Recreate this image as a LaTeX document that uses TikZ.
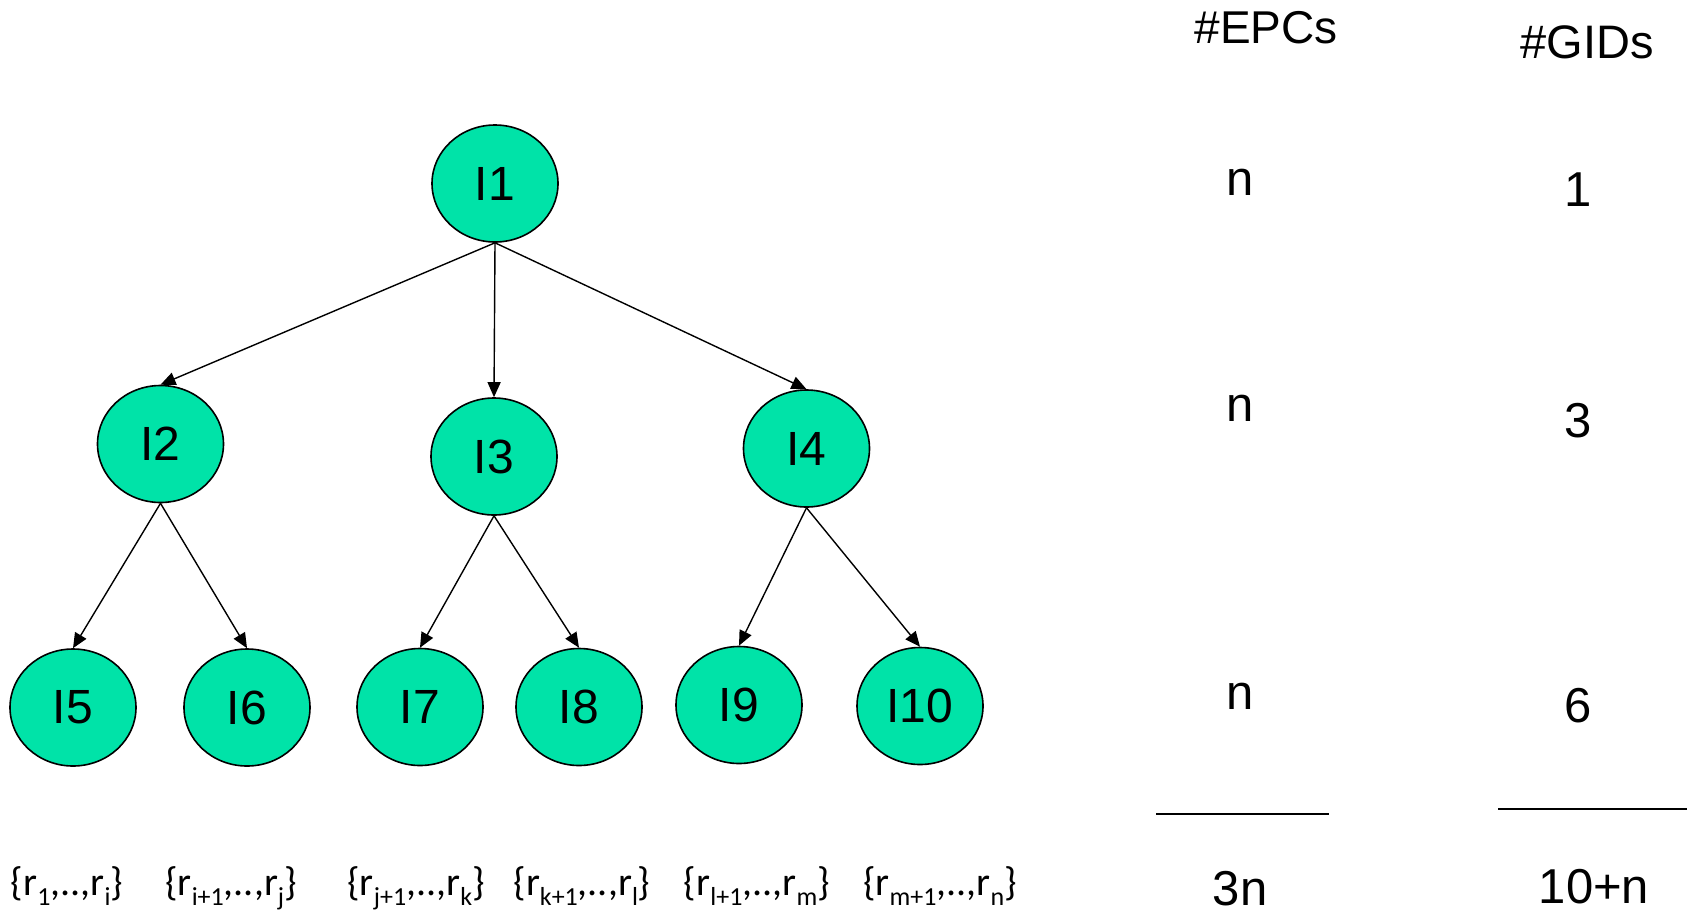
\documentclass[tikz,border=0pt]{standalone}
\usepackage{fontspec}
\setmainfont{Liberation Sans}
\newfontfamily\rangefont{Carlito}
\usetikzlibrary{shapes.geometric,arrows.meta}
\definecolor{mint}{RGB}{0,227,168}
% lowered index used in the range labels
\newcommand\lowidx[1]{\raisebox{-10pt}{\fontsize{26}{26}\selectfont #1}}
\tikzset{
  tnode/.style={ellipse,draw=black,line width=1.6pt,fill=mint,
    minimum width=126pt,minimum height=117pt,inner sep=0pt,
    font=\fontsize{48}{56}\selectfont},
  treeedge/.style={line width=1.4pt,-{Triangle[length=15pt,width=13pt]}},
  colhead/.style={anchor=base,inner sep=0pt},
  countval/.style={anchor=base,inner sep=0pt,font=\fontsize{49}{58}\selectfont},
  rangelbl/.style={anchor=base,inner sep=0pt,font=\rangefont\fontsize{40}{46}\selectfont},
  sumrule/.style={line width=1.6pt}
}
\begin{document}
\begin{tikzpicture}[x=1pt,y=-1pt]
\path[use as bounding box] (0,0) rectangle (1692,911);

% tree nodes
\node[tnode] (I1) at (495,183.5) {I1};
\node[tnode] (I2) at (160.5,444) {I2};
\node[tnode] (I3) at (494,456.5) {I3};
\node[tnode] (I4) at (806.5,448.5) {I4};
\node[tnode] (I5) at (73,707.5) {I5};
\node[tnode] (I6) at (247,707.5) {I6};
\node[tnode] (I7) at (420,707) {I7};
\node[tnode] (I8) at (579,707) {I8};
\node[tnode] (I9) at (739,705) {I9};
\node[tnode] (I10) at (920,706) {I10};

% edges
\draw[treeedge] (I1.south) -- (I2.north);
\draw[treeedge] (I1.south) -- (I3.north);
\draw[treeedge] (I1.south) -- (I4.north);
\draw[treeedge] (I2.south) -- (I5.north);
\draw[treeedge] (I2.south) -- (I6.north);
\draw[treeedge] (I3.south) -- (I7.north);
\draw[treeedge] (I3.south) -- (I8.north);
\draw[treeedge] (I4.south) -- (I9.north);
\draw[treeedge] (I4.south) -- (I10.north);

% leaf ranges
\node[rangelbl] (r1) at (67,895) {\{r\lowidx{1},..,r\lowidx{i}\}};
\node[rangelbl] (r2) at (231,895) {\{r\lowidx{i+1},..,r\lowidx{j}\}};
\node[rangelbl] (r3) at (416,895) {\{r\lowidx{j+1},..,r\lowidx{k}\}};
\node[rangelbl] (r4) at (582,895) {\{r\lowidx{k+1},..,r\lowidx{l}\}};
\node[rangelbl] (r5) at (757,895) {\{r\lowidx{l+1},..,r\lowidx{m}\}};
\node[rangelbl] (r6) at (940,895) {\{r\lowidx{m+1},..,r\lowidx{n}\}};

% column headings
\node[colhead,font=\fontsize{46}{54}\selectfont] (hE) at (1266,43) {\#EPCs};
\node[colhead,font=\fontsize{47}{55}\selectfont] (hG) at (1587,58) {\#GIDs};

% per-level counts
\node[countval] (e1) at (1240,195) {n};
\node[countval] (e2) at (1240,421) {n};
\node[countval] (e3) at (1240,709) {n};
\node[countval] (g1) at (1578,206) {1};
\node[countval] (g2) at (1578,437) {3};
\node[countval] (g3) at (1578,722) {6};

% sum rules and totals
\coordinate (eL) at (1156,814);
\coordinate (eR) at (1329,814);
\coordinate (gL) at (1498,809);
\coordinate (gR) at (1687,809);
\draw[sumrule] (eL) -- (eR);
\draw[sumrule] (gL) -- (gR);
\node[countval] (eT) at (1240,905) {3n};
\node[countval] (gT) at (1594,903) {10+n};
\end{tikzpicture}
\end{document}
